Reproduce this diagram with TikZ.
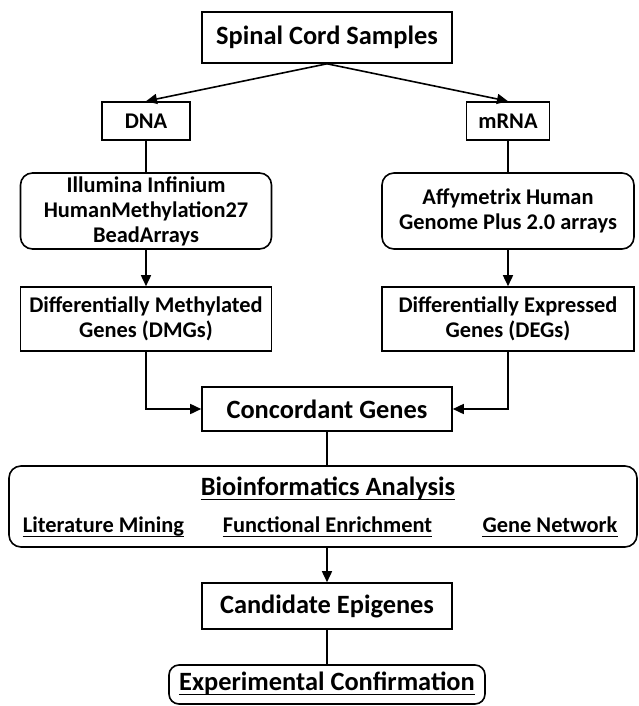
\documentclass[tikz,border=0pt]{standalone}
\usepackage{fontspec}
\setmainfont{Carlito}
\usetikzlibrary{arrows.meta}

\tikzset{
  sqbox/.style={draw, line width=1.6pt, inner sep=0pt, align=center},
  rndbox/.style={sqbox, rounded corners=12pt},
  bigtxt/.style={font=\fontsize{26.4}{30}\selectfont\bfseries},
  smalltxt/.style={font=\fontsize{22.4}{25}\selectfont\bfseries},
  link/.style={line width=1.6pt},
  arr/.style={link, -{Triangle[length=11pt,width=10pt]}},
  uline/.style={line width=1.7pt},
}

\begin{document}
\begin{tikzpicture}[x=1pt,y=-1pt]
  \useasboundingbox (0,0) rectangle (638,706);
  % top
  \node [sqbox,bigtxt,minimum width=250pt,minimum height=51pt] (spinal) at (327,37.5) {Spinal Cord Samples};
  \node [sqbox,smalltxt,minimum width=88pt,minimum height=38pt] (dna) at (146,121) {DNA};
  \node [sqbox,smalltxt,minimum width=83pt,minimum height=38pt] (mrna) at (508,121) {mRNA};
  % platforms
  \node [rndbox,smalltxt,minimum width=251pt,minimum height=76pt] (illumina) at (146,211)
    {Illumina Infinium\\HumanMethylation27\\BeadArrays};
  \node [rndbox,smalltxt,minimum width=252pt,minimum height=76pt] (affy) at (508,211)
    {Affymetrix Human\\Genome Plus 2.0 arrays};
  \node [sqbox,smalltxt,minimum width=251pt,minimum height=64pt] (dmg) at (146,319)
    {Differentially Methylated\\Genes (DMGs)};
  \node [sqbox,smalltxt,minimum width=252pt,minimum height=64pt] (deg) at (508,319)
    {Differentially Expressed\\Genes (DEGs)};
  % middle
  \node [sqbox,bigtxt,minimum width=250pt,minimum height=44pt] (concord) at (327,409) {Concordant Genes};
  \node [rndbox,minimum width=628pt,minimum height=81pt] (bioinf) at (323,506.5) {};
  \node [bigtxt,inner sep=0pt,anchor=base] (biotitle) at (328,495) {Bioinformatics Analysis};
  \node [smalltxt,inner sep=0pt,anchor=base] (litmine) at (103.5,532) {Literature Mining};
  \node [smalltxt,inner sep=0pt,anchor=base] (funcenr) at (327.5,532) {Functional Enrichment};
  \node [smalltxt,inner sep=0pt,anchor=base] (genenet) at (550,532) {Gene Network};
  % bottom
  \node [sqbox,bigtxt,minimum width=250pt,minimum height=46pt] (candid) at (327,606) {Candidate Epigenes};
  \node [rndbox,minimum width=316pt,minimum height=39pt,rounded corners=10pt] (expbox) at (327,684.5) {};
  \node [bigtxt,inner sep=0pt,anchor=base] (exptxt) at (327,690) {Experimental Confirmation};

  % underlines
  \foreach \n in {biotitle,litmine,funcenr,genenet,exptxt}
    \draw [uline] ([yshift=-4.5pt]\n.base west) -- ([yshift=-4.5pt]\n.base east);

  % connectors
  \draw [arr] (spinal.south) -- (dna.north);
  \draw [arr] (spinal.south) -- (mrna.north);
  \draw [link] (dna.south) -- (illumina.north);
  \draw [link] (mrna.south) -- (affy.north);
  \draw [arr] (illumina.south) -- (dmg.north);
  \draw [arr] (affy.south) -- (deg.north);
  \draw [arr] (dmg.south) |- (concord.west);
  \draw [arr] (deg.south) |- (concord.east);
  \draw [link] (concord.south) -- (concord.south |- bioinf.north);
  \draw [arr] (bioinf.south -| candid.north) -- (candid.north);
  \draw [link] (candid.south) -- (expbox.north);
\end{tikzpicture}
\end{document}
